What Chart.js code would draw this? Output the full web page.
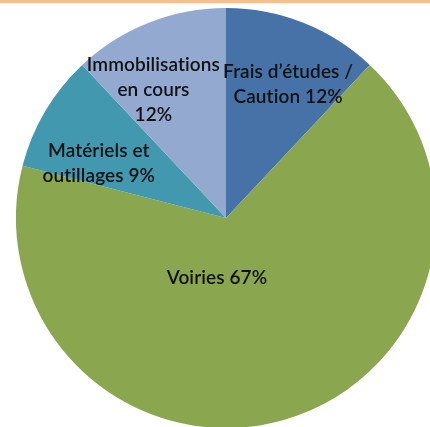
<!DOCTYPE html>
<html>
<head>
<meta charset="utf-8">
<script src="https://cdn.jsdelivr.net/npm/chart.js@4"></script>
<style>
    html, body { margin: 0; padding: 0; background: #fff; overflow: hidden; width: 430px; height: 427px; }
    .top-band { position: absolute; left: 0; top: 0; width: 430px; height: 3px; background: #FDBE8E; z-index: 2; }
    .pie-box { position: absolute; left: 16px; top: 8px; width: 420px; height: 420px; }
</style>
</head>
<body>
<div class="top-band"></div>
<div class="pie-box"><canvas id="chartPie" width="420" height="420"></canvas></div>
<script>
// Data
const categories = ["Frais d’études / Caution", "Voiries", "Matériels et outillages", "Immobilisations en cours"];
const shares = [12, 67, 9, 12];
const sliceColors = ['#4672A8', '#8AA64F', '#4298AF', '#94A9D0'];

// Label text lines, as in the original
const labelLines = [
    ["Frais d’études /", "Caution 12%"],
    ["Voiries 67%"],
    ["Matériels et", "outillages 9%"],
    ["Immobilisations", "en cours", "12%"]
];
// label anchor: angle (deg, clockwise from top) and distance (fraction of radius)
const labelAngle = [25.0, 188.5, 293.4, 330.4];
const labelDist = [0.70, 0.29, 0.66, 0.70];

const pieLabels = {
    id: 'pieLabels',
    afterDatasetsDraw(chart) {
        const ctx = chart.ctx;
        const arcs = chart.getDatasetMeta(0).data;
        ctx.save();
        ctx.font = '600 19px Lato';
        ctx.letterSpacing = '0.1px'; // also stops the "ti" ligature
        ctx.fillStyle = '#111';
        ctx.textAlign = 'center';
        ctx.textBaseline = 'middle';
        arcs.forEach((arc, i) => {
            const a = (labelAngle[i] - 90) * Math.PI / 180;
            const r = arc.outerRadius * labelDist[i];
            const cx = arc.x + Math.cos(a) * r;
            const cy = arc.y + Math.sin(a) * r;
            const lines = labelLines[i];
            const lh = 25;
            lines.forEach((t, k) => {
                ctx.fillText(t, cx, cy + (k - (lines.length - 1) / 2) * lh);
            });
        });
        ctx.restore();
    }
};

new Chart(document.getElementById('chartPie').getContext('2d'), {
    type: 'pie',
    data: {
        labels: categories,
        datasets: [{
            data: shares,
            backgroundColor: sliceColors,
            borderWidth: 0
        }]
    },
    options: {
        responsive: false,
        animation: false,
        layout: { padding: 0 },
        plugins: {
            legend: { display: false },
            tooltip: { enabled: false }
        }
    },
    plugins: [pieLabels]
});
</script>
</body>
</html>
